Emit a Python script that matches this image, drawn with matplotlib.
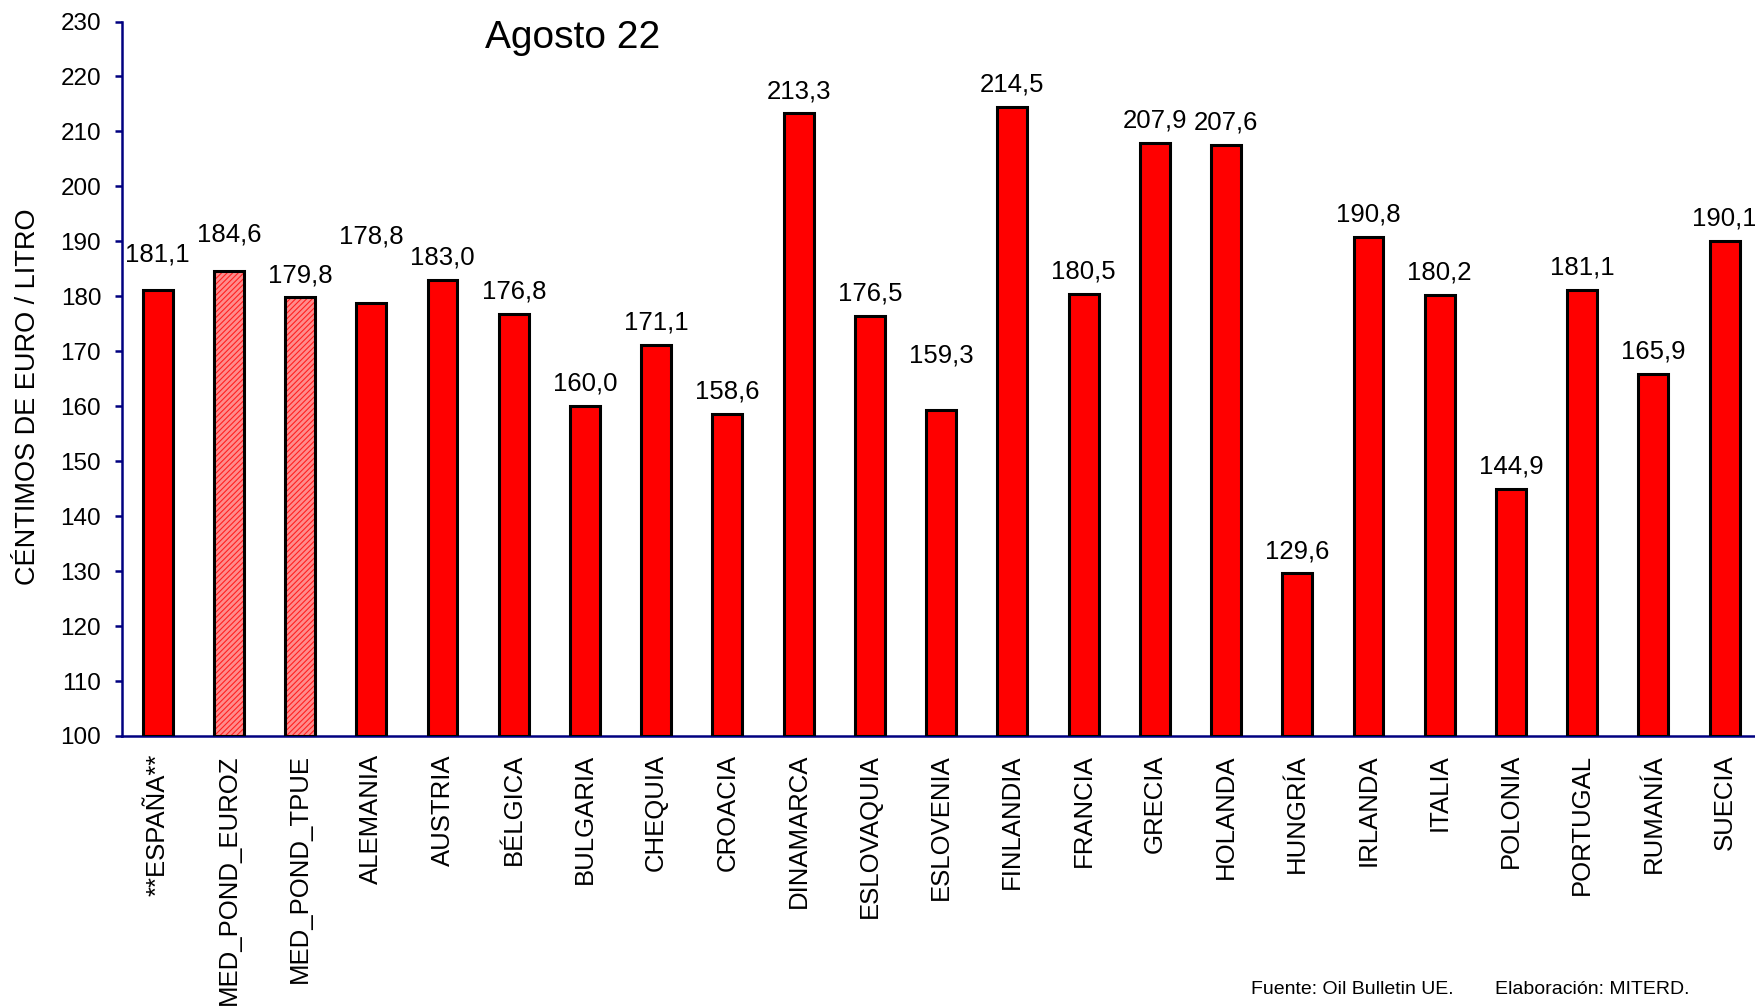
import matplotlib
matplotlib.use("Agg")
import matplotlib.pyplot as plt
import numpy as np

plt.rcParams['font.family'] = ['Liberation Sans', 'DejaVu Sans']
plt.rcParams['hatch.color'] = 'red'
plt.rcParams['hatch.linewidth'] = 0.8

countries = ['**ESPAÑA**', 'MED_POND_EUROZ', 'MED_POND_TPUE', 'ALEMANIA', 'AUSTRIA',
             'BÉLGICA', 'BULGARIA', 'CHEQUIA', 'CROACIA', 'DINAMARCA', 'ESLOVAQUIA',
             'ESLOVENIA', 'FINLANDIA', 'FRANCIA', 'GRECIA', 'HOLANDA', 'HUNGRÍA',
             'IRLANDA', 'ITALIA', 'POLONIA', 'PORTUGAL', 'RUMANÍA', 'SUECIA']
prices = [181.1, 184.6, 179.8, 178.8, 183.0, 176.8, 160.0, 171.1, 158.6, 213.3, 176.5,
          159.3, 214.5, 180.5, 207.9, 207.6, 129.6, 190.8, 180.2, 144.9, 181.1, 165.9, 190.1]
averages = ['MED_POND_EUROZ', 'MED_POND_TPUE']

# how far (pt) each value label sits above its bar
label_raise = [21, 21, 11, 43, 11, 11, 11, 11, 11, 11, 11,
               34, 11, 11, 11, 11, 11, 11, 11, 11, 11, 11, 11]

W, H = 1756, 1006
fig = plt.figure(figsize=(W / 100, H / 100), dpi=100)
ax = fig.add_axes([122 / W, 1 - 736 / H, 1 - 122 / W, (736 - 21.5) / H])

x = np.arange(len(countries))
is_avg = np.array([c in averages for c in countries])
faces = ['#ff8c8c' if a else '#ff0000' for a in is_avg]

bars = ax.bar(x, np.array(prices) - 100, bottom=100, width=0.42,
              color=faces, linewidth=0, zorder=2)
for b, a in zip(bars, is_avg):
    if a:
        b.set_hatch('//////')
        b.set_edgecolor('#ff2020')
ax.bar(x, np.array(prices) - 100, bottom=100, width=0.42, fill=False,
       edgecolor='black', linewidth=2.2, zorder=3)

for xi, v, r in zip(x, prices, label_raise):
    ax.annotate(f"{v:.1f}".replace('.', ','), (xi, v), xytext=(0, r),
                textcoords='offset points', ha='center', va='baseline',
                fontsize=18.5, annotation_clip=False)

ax.set_xlim(-0.5, 22.44)
ax.set_ylim(100, 230)
ax.set_yticks(np.arange(100, 231, 10))
ax.set_xticks(x)
ax.set_xticklabels(countries, rotation=90, fontsize=18.5, va='top', ha='center')

navy = '#000080'
for s in ['top', 'right']:
    ax.spines[s].set_visible(False)
for s in ['left', 'bottom']:
    ax.spines[s].set_color(navy)
    ax.spines[s].set_linewidth(1.8)
ax.tick_params(axis='y', direction='out', length=5, width=1.8, color=navy,
               labelsize=17.5, pad=10)
ax.tick_params(axis='x', length=0, pad=13)

fig.text(573 / W, 1 - 38 / H, 'Agosto 22', fontsize=28, ha='center', va='center')
fig.text(28 / W, 1 - 397 / H, 'CÉNTIMOS DE EURO / LITRO', fontsize=19.5,
         rotation=90, ha='center', va='center')
fig.text(1251 / W, 1 - 989 / H, 'Fuente: Oil Bulletin UE.', fontsize=14,
         ha='left', va='center')
fig.text(1495 / W, 1 - 989 / H, 'Elaboración: MITERD.', fontsize=14,
         ha='left', va='center')

fig.savefig('out.png', dpi=100)
